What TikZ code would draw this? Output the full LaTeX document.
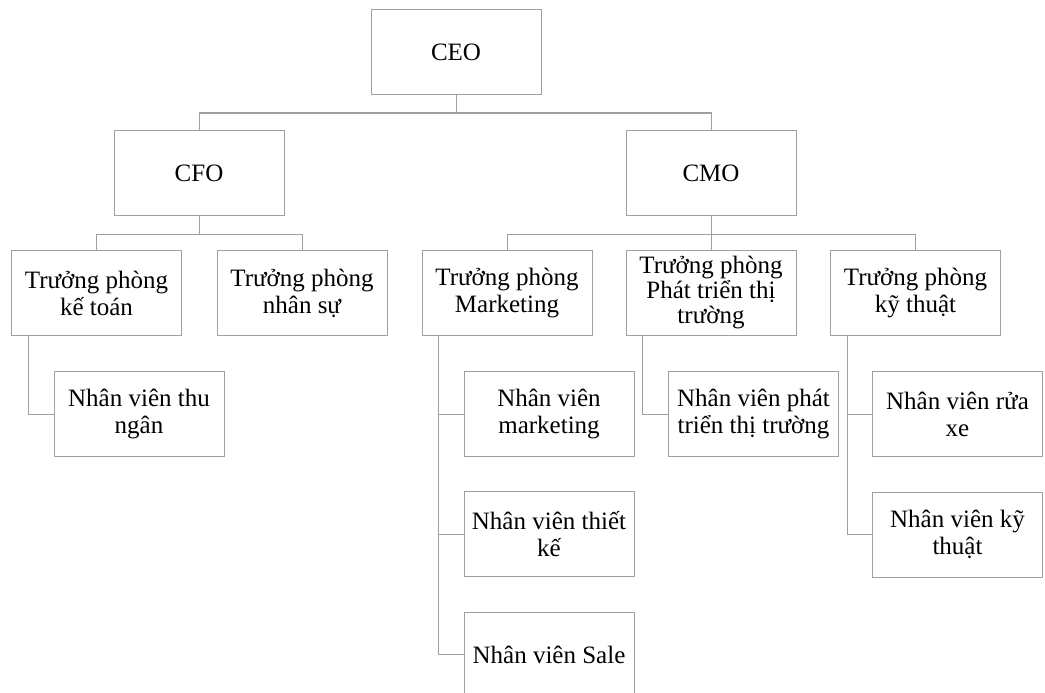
\documentclass[tikz,border=0pt]{standalone}
\usepackage{fontspec}
\setmainfont{Liberation Serif}
\usepackage{tikz}
\definecolor{linegray}{RGB}{160,160,160}

\begin{document}
\begin{tikzpicture}[x=1pt, y=-1pt,
	orgbox/.style={draw=linegray, line width=1pt, minimum width=170pt, minimum height=85pt, inner sep=1pt, align=center, font=\fontsize{25}{27}\selectfont},
	link/.style={draw=linegray, line width=1pt}]
	\useasboundingbox (0, 0) rectangle (1045, 693);
	% Boxes:
	\node[orgbox] (ceo) at (456, 52){CEO};
	\node[orgbox] (cfo) at (199, 173){CFO};
	\node[orgbox] (cmo) at (711, 173){CMO};
	\node[orgbox] (ketoan) at (96.5, 293){Trưởng phòng\\kế toán};
	\node[orgbox] (nhansu) at (302, 293){Trưởng phòng\\nhân sự};
	\node[orgbox] (mkt) at (507, 293){Trưởng phòng\\Marketing};
	\node[orgbox, font=\fontsize{25}{25}\selectfont] (pttt) at (711, 293){Trưởng phòng\\Phát triển thị\\trường};
	\node[orgbox] (kythuat) at (915.5, 293){Trưởng phòng\\kỹ thuật};
	\node[orgbox] (thungan) at (139, 414){Nhân viên thu\\ngân};
	\node[orgbox] (nvmkt) at (549, 414){Nhân viên\\marketing};
	\node[orgbox] (thietke) at (549, 534){Nhân viên thiết\\kế};
	\node[orgbox] (sale) at (549, 654.5){Nhân viên Sale};
	\node[orgbox] (nvpttt) at (753.5, 414){Nhân viên phát\\triển thị trường};
	\node[orgbox] (ruaxe) at (957.5, 414){Nhân viên rửa\\xe};
	\node[orgbox] (nvkt) at (957.5, 534.5){Nhân viên kỹ\\thuật};
	% Connectors:
	\draw[link] (ceo.south) -- ++(0, 18) -| (cfo.north);
	\draw[link] (ceo.south) -- ++(0, 18) -| (cmo.north);
	\draw[link] (cfo.south) -- ++(0, 18) -| (ketoan.north);
	\draw[link] (cfo.south) -- ++(0, 18) -| (nhansu.north);
	\draw[link] (cmo.south) -- ++(0, 18) -| (mkt.north);
	\draw[link] (cmo.south) -- (pttt.north);
	\draw[link] (cmo.south) -- ++(0, 18) -| (kythuat.north);
	\draw[link] ([xshift=17pt]ketoan.south west) |- (thungan.west);
	\draw[link] ([xshift=17pt]mkt.south west) |- (nvmkt.west);
	\draw[link] ([xshift=17pt]mkt.south west) |- (thietke.west);
	\draw[link] ([xshift=17pt]mkt.south west) |- (sale.west);
	\draw[link] ([xshift=17pt]pttt.south west) |- (nvpttt.west);
	\draw[link] ([xshift=17pt]kythuat.south west) |- (ruaxe.west);
	\draw[link] ([xshift=17pt]kythuat.south west) |- (nvkt.west);
\end{tikzpicture}
\end{document}
